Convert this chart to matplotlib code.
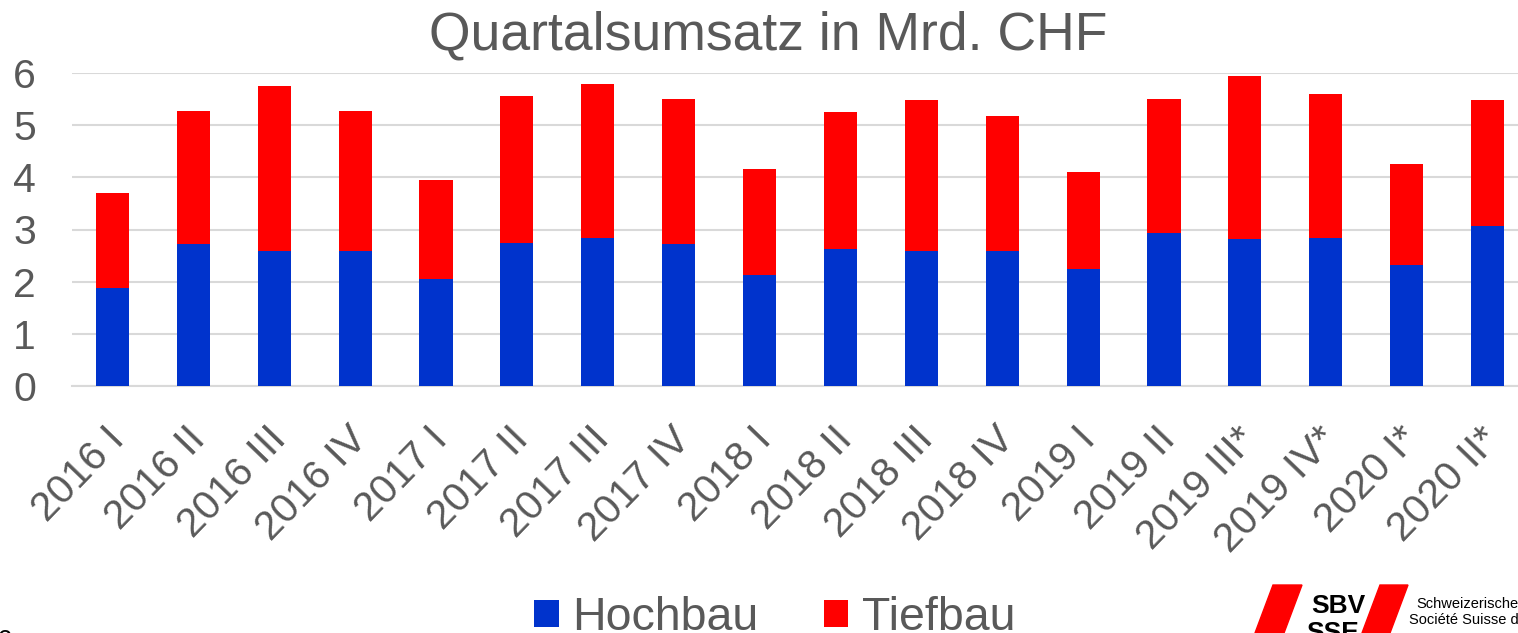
import matplotlib
matplotlib.use("Agg")
import matplotlib.pyplot as plt
from matplotlib.patches import Polygon
import matplotlib.transforms as mtransforms
import numpy as np

plt.rcParams['font.family'] = ['Liberation Sans', 'DejaVu Sans']

categories = ["2016 I", "2016 II", "2016 III", "2016 IV",
              "2017 I", "2017 II", "2017 III", "2017 IV",
              "2018 I", "2018 II", "2018 III", "2018 IV",
              "2019 I", "2019 II", "2019 III*", "2019 IV*",
              "2020 I*", "2020 II*"]
totals = [3.70, 5.27, 5.75, 5.27, 3.95, 5.56, 5.79, 5.50, 4.16,
          5.25, 5.48, 5.18, 4.10, 5.50, 5.94, 5.60, 4.26, 5.49]
hochbau = [1.87, 2.73, 2.59, 2.59, 2.06, 2.74, 2.84, 2.72, 2.13,
           2.63, 2.59, 2.59, 2.24, 2.93, 2.81, 2.83, 2.31, 3.07]
tiefbau = [t - h for t, h in zip(totals, hochbau)]
yticks = [0, 1, 2, 3, 4, 5, 6]

W, H = 1518, 633
fig = plt.figure(figsize=(W / 100, H / 100), dpi=100)
ax = fig.add_axes([72 / W, (H - 386) / H, 1456 / W, (386 - 73) / H])

x = np.arange(len(categories))
blue = "#0033CC"
red = "#FF0000"
gray = "#595959"
ax.bar(x, hochbau, width=0.41, color=blue, zorder=3, label="Hochbau")
ax.bar(x, tiefbau, width=0.41, bottom=hochbau, color=red, zorder=3, label="Tiefbau")

ax.set_xlim(-0.5, len(categories) - 0.5)
ax.set_ylim(0, 6)
ax.set_yticks(yticks)
ax.set_yticklabels([str(v) for v in yticks], fontsize=29.5, color=gray)
ax.yaxis.grid(True, color="#D9D9D9", linewidth=1.5, zorder=0)
ax.set_axisbelow(True)
for s in ["top", "right", "left"]:
    ax.spines[s].set_visible(False)
ax.spines["bottom"].set_color("#D9D9D9")
ax.spines["bottom"].set_linewidth(1.5)
ax.tick_params(axis="y", length=0, pad=26)
ax.tick_params(axis="x", length=0, pad=0)
ax.set_xticks(x)
ax.set_xticklabels(categories, rotation=46, ha="right", va="top",
                   rotation_mode="anchor", fontsize=29.5, color=gray)
offset = mtransforms.ScaledTranslation(-8 / 100, -34 / 100, fig.dpi_scale_trans)
for lbl in ax.get_xticklabels():
    lbl.set_transform(lbl.get_transform() + offset)

fig.text(768 / W, 1 - 35 / H, "Quartalsumsatz in Mrd. CHF", fontsize=38.5,
         color=gray, ha="center", va="center")

leg = fig.legend(loc="center", bbox_to_anchor=(775 / W, 1 - 618 / H),
                 ncol=2, frameon=False, fontsize=33.5, handlelength=0.52,
                 handleheight=0.52, handletextpad=0.3, columnspacing=1.4,
                 labelcolor=gray, borderpad=0)

# logo (decoration)
fig.patches.append(Polygon([(1273 / W, 1 - 585 / H), (1302 / W, 1 - 585 / H),
                            (1284 / W, 0), (1255 / W, 0)],
                           closed=True, transform=fig.transFigure, color=red))
fig.patches.append(Polygon([(1380 / W, 1 - 585 / H), (1408 / W, 1 - 585 / H),
                            (1390 / W, 0), (1362 / W, 0)],
                           closed=True, transform=fig.transFigure, color=red))
fig.text(1338 / W, 1 - 606 / H, "SBV", fontsize=19, fontweight="bold",
         ha="center", va="center", color="black")
fig.text(1333 / W, 1 - 633 / H, "SSE", fontsize=19, fontweight="bold",
         ha="center", va="center", color="black")
fig.text(1416 / W, 1 - 604 / H, "Schweizerische", fontsize=10.5,
         ha="left", va="center", color="black")
fig.text(1409 / W, 1 - 620 / H, "Société Suisse des Entrepreneurs", fontsize=10.5,
         ha="left", va="center", color="black")
fig.text(-3 / W, 1 - 642 / H, "6", fontsize=20, ha="left", va="center", color="black")

fig.savefig("out.png", dpi=100)
